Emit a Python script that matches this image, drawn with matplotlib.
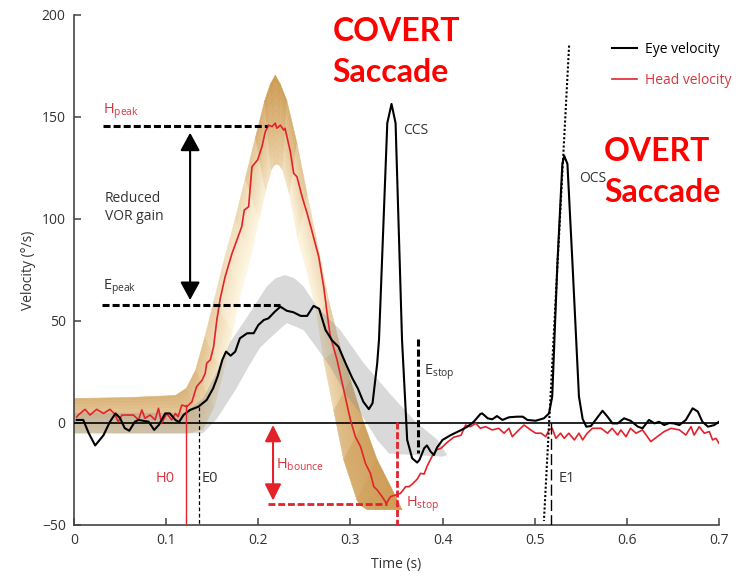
import numpy as np
import matplotlib.pyplot as plt
from matplotlib.collections import PolyCollection

plt.rcParams['font.family'] = ['Open Sans', 'DejaVu Sans']

# Eye velocity trace (time s, velocity deg/s)
eye_t = [0.003, 0.010, 0.016, 0.023, 0.032, 0.039, 0.045, 0.050, 0.055, 0.060,
         0.066, 0.070, 0.075, 0.081, 0.087, 0.092, 0.099, 0.104, 0.110, 0.114,
         0.119, 0.126, 0.135, 0.144, 0.151, 0.156, 0.161, 0.165, 0.170, 0.175,
         0.180, 0.188, 0.195, 0.200, 0.206, 0.211, 0.218, 0.224, 0.231, 0.238,
         0.246, 0.253, 0.260, 0.266, 0.273, 0.280, 0.287, 0.295, 0.302, 0.308,
         0.314, 0.320, 0.324, 0.329, 0.331, 0.340, 0.3446, 0.349, 0.356, 0.3616,
         0.367, 0.3725, 0.375, 0.380, 0.383, 0.387, 0.3906, 0.394, 0.400, 0.409,
         0.420, 0.427, 0.434, 0.441, 0.443, 0.449, 0.454, 0.459, 0.465, 0.472,
         0.481, 0.487, 0.492, 0.501, 0.510, 0.5155, 0.519, 0.5246, 0.530, 0.532,
         0.5355, 0.541, 0.548, 0.552, 0.556, 0.561, 0.566, 0.5736, 0.579, 0.5844,
         0.590, 0.597, 0.604, 0.612, 0.617, 0.624, 0.630, 0.635, 0.6405, 0.646,
         0.651, 0.657, 0.664, 0.6714, 0.677, 0.682, 0.688, 0.695, 0.700]
eye_v = [1.5, 1.5, -5, -11, -6, 0.6, 4.7, 2.4, -2.5, -3.8,
         0.6, 1.5, 1.1, 0.6, -3.4, -1, 4.7, 4.7, 1.5, 0.5,
         4, 6.4, 8, 11.3, 17, 23, 31, 35, 33, 35,
         41.5, 44, 44, 48, 50.5, 51.3, 54.6, 57, 55, 54.3,
         52.5, 52.5, 57.4, 56, 45.6, 40.5, 37.4, 29, 22, 17,
         10.4, 6.8, 9.7, 29, 40.7, 147, 156.4, 147, 40.7, -8.3,
         -17.3, -19.4, -18, -12.4, -11, -14, -15.7, -12, -8.3, -5.9,
         -3.5, -1.8, 0.7, 4.4, 4.7, 2.3, 1.8, 3.4, 1.5, 2.8,
         3.1, 3.1, 1.5, 1.1, 2.3, 4.7, 13, 78, 127, 131,
         127, 78, 13, 2, -1.8, -1.5, 1.5, 6, 3.1, -0.2,
         -0.2, 2.3, 1.1, -1.8, -2.6, 1.5, -0.2, 0.6, -1, 0,
         -0.2, -1, 1.5, 7.2, 5.6, 0.6, -1.8, -1, 0.6]

# Head velocity trace
head_t = [0.003, 0.0047, 0.012, 0.0174, 0.0246, 0.032, 0.039, 0.044, 0.048, 0.052,
          0.0645, 0.070, 0.0736, 0.077, 0.0826, 0.088, 0.0917, 0.095, 0.1007, 0.106,
          0.110, 0.113, 0.117, 0.1225, 0.128, 0.133, 0.139, 0.1424, 0.144, 0.148,
          0.1515, 0.155, 0.1587, 0.164, 0.1714, 0.1768, 0.182, 0.1848, 0.1895, 0.1913,
          0.1931, 0.1993, 0.204, 0.2076, 0.2112, 0.2149, 0.2185, 0.220, 0.224, 0.2275,
          0.229, 0.2348, 0.2384, 0.242, 0.2475, 0.253, 0.2584, 0.2656, 0.271, 0.2747,
          0.278, 0.2855, 0.2927, 0.300, 0.3054, 0.311, 0.3163, 0.3217, 0.3254, 0.329,
          0.3344, 0.339, 0.3435, 0.349, 0.3543, 0.360, 0.3634, 0.367, 0.3725, 0.376,
          0.380, 0.3834, 0.389, 0.394, 0.398, 0.405, 0.412, 0.420, 0.425, 0.430,
          0.436, 0.441, 0.4467, 0.454, 0.461, 0.4667, 0.472, 0.4757, 0.481, 0.4884,
          0.4957, 0.501, 0.507, 0.512, 0.5155, 0.519, 0.523, 0.528, 0.532, 0.537,
          0.543, 0.548, 0.552, 0.557, 0.5627, 0.572, 0.579, 0.584, 0.590, 0.5935,
          0.599, 0.604, 0.610, 0.617, 0.626, 0.633, 0.6405, 0.648, 0.657, 0.664,
          0.6696, 0.673, 0.6786, 0.684, 0.6895, 0.693, 0.6967, 0.700]
head_v = [3, 3.9, 6.7, 3.9, 6.7, 4.7, 6.7, 4.5, 0.6, 3.9,
          3.9, 1.5, 6.4, 2.3, 3.9, 1.5, 7.2, -0.2, 4.7, 1.5,
          4.7, 3.1, 8.8, 8, 10.4, 17.8, 21, 24.4, 29.3, 31,
          37.4, 50.5, 61, 71.7, 83, 89.7, 96.2, 104.4, 106, 115.8,
          125.6, 129, 135.5, 142.8, 146, 145.3, 147, 144.5, 146, 143.6,
          144.5, 133, 122.4, 120.7, 111, 102.8, 93.8, 81.5, 66.8, 53.8,
          43, 30.9, 16.2, 1.5, -6.7, -11.6, -19.8, -24.7, -31.2, -32.8,
          -36.1, -39.4, -36.1, -35.3, -34.5, -31.2, -31.2, -30, -27.5, -24.7,
          -25, -21, -16, -13, -12.5, -9.5, -7, -6, -1, -1.8,
          -0.2, -2.6, -1.8, -3.4, -2.6, -5, -2.6, -6.7, -4.2, -1,
          -3.4, -5, -5, -6.7, -3.4, -2.6, -7.5, -5, -7.5, -5,
          -8.3, -5, -8.3, -5, -2.6, -2.6, -5, -2.6, -5.9, -3.4,
          -6.7, -2.6, -5, -3.4, -9.1, -6.7, -4.2, -2.6, -3.4, -5.9,
          -1.8, -5.9, -1.8, -5, -4.2, -8.3, -7.5, -10]

# Normal head template band: outer and inner edge, paired along the band
gold_out_t = [0.0, 0.06, 0.11, 0.122, 0.132, 0.142, 0.152, 0.163, 0.175, 0.186,
              0.197, 0.207, 0.213, 0.2185, 0.224, 0.231, 0.242, 0.253, 0.264, 0.2764,
              0.289, 0.300, 0.3145, 0.329, 0.3435, 0.356]
gold_out_v = [12, 12.5, 13.5, 17, 26, 42, 60, 80, 100, 120,
              140, 158, 166, 170.5, 166, 158, 137, 112, 88, 60,
              37, 21, 0, -18, -31, -42.5]
gold_in_t = [0.0, 0.06, 0.125, 0.14, 0.152, 0.162, 0.172, 0.182, 0.192, 0.201,
             0.208, 0.214, 0.217, 0.220, 0.223, 0.2265, 0.234, 0.243, 0.253, 0.264,
             0.271, 0.282, 0.2927, 0.307, 0.310, 0.318]
gold_in_v = [-5, -5, -5, -3, 8, 25, 45, 65, 82, 100,
             114, 124, 126.2, 127, 126.2, 124, 112, 90, 74, 52,
             31, 6, -18, -37.7, -40, -42.5]
# shade of the band at each pair: 0 = full gold, 1 = pale cream
gold_out_l = [.3, .3, .3, .3, .4, .5, .65, .72, .72, .6,
              .38, .14, .08, .06, .08, .14, .35, .6, .7, .62,
              .45, .3, .15, .1, .08, .08]
gold_in_l = [.72, .72, .72, .72, .82, .9, .97, .99, .99, .97,
             .88, .68, .6, .6, .6, .68, .88, .97, .97, .92,
             .78, .52, .3, .2, .15, .15]

# Normal eye template band
grey_up_t = [0.0, 0.12, 0.14, 0.155, 0.17, 0.188, 0.2094, 0.219, 0.229, 0.239,
             0.249, 0.2638, 0.289, 0.3145, 0.3435, 0.372, 0.394, 0.405]
grey_up_v = [5, 5, 12, 25, 40, 52, 67, 71, 72.5, 71,
             67, 57, 45.6, 29.3, 14, 0, -8, -15.7]
grey_lo_t = [0.0, 0.14, 0.155, 0.175, 0.19, 0.202, 0.216, 0.231, 0.249, 0.26,
             0.278, 0.2964, 0.311, 0.329, 0.342, 0.40]
grey_lo_v = [-5, -5, 2, 16, 28, 37, 43, 49, 45.6, 39,
             27.6, 12.9, 4.7, -8.3, -15, -16.5]

red = '#e3232b'
lab_red = '#d9363e'
txt = '#333333'

fig = plt.figure(figsize=(7.47, 5.78), dpi=100)
ax = fig.add_axes([74 / 747, 53 / 578, 645 / 747, 510 / 578])

# gold band drawn as small quads so the shade can change across and along it
n_strip = 12
dark = np.array([0.79, 0.58, 0.28])
light = np.array([1.0, 0.975, 0.9])
go = np.column_stack([gold_out_t, gold_out_v])
gi = np.column_stack([gold_in_t, gold_in_v])
polys, cols = [], []
for j in range(len(go) - 1):
    lo = (gold_out_l[j] + gold_out_l[j + 1]) / 2
    li = (gold_in_l[j] + gold_in_l[j + 1]) / 2
    for k in range(n_strip):
        f0, f1 = k / n_strip, (k + 1) / n_strip
        p0 = go[j] + (gi[j] - go[j]) * f0
        p1 = go[j + 1] + (gi[j + 1] - go[j + 1]) * f0
        p2 = go[j + 1] + (gi[j + 1] - go[j + 1]) * f1
        p3 = go[j] + (gi[j] - go[j]) * f1
        polys.append([p0, p1, p2, p3])
        f = (k + 0.5) / n_strip
        cols.append(dark + (light - dark) * (lo + (li - lo) * f))
pc = PolyCollection(polys, facecolors=cols, edgecolors=cols, linewidths=0.4, zorder=1)
ax.add_collection(pc)

ax.fill(grey_up_t + grey_lo_t[::-1], grey_up_v + grey_lo_v[::-1],
        color='#8c8c8c', alpha=0.33, lw=0, zorder=2)

ax.axhline(0, color='black', lw=1.2, zorder=3)

ax.plot(head_t, head_v, color=red, lw=1.2, zorder=4, label='Head velocity')
ax.plot(eye_t, eye_v, color='black', lw=1.5, zorder=5, label='Eye velocity')

# markers of the measured events
ax.plot([0.1214, 0.1214], [9, -50], color=red, lw=1.0, zorder=6)
ax.plot([0.1355, 0.1355], [8, -50], color='black', lw=0.9, ls=(0, (3, 2)), zorder=6)
ax.plot([0.031, 0.2094], [145.7, 145.7], color='black', lw=2.2, ls=(0, (2.3, 1)), zorder=6)
ax.plot([0.030, 0.224], [57.8, 57.8], color='black', lw=2.2, ls=(0, (2.3, 1)), zorder=6)
ax.plot([0.373, 0.373], [41, -14.9], color='black', lw=2.2, ls=(0, (2.3, 1)), zorder=6)
ax.plot([0.211, 0.34], [-39.7, -39.7], color=red, lw=2.0, ls=(0, (2.5, 1)), zorder=6)
ax.plot([0.3507, 0.3507], [0.5, -50], color=red, lw=2.0, ls=(0, (2.5, 1)), zorder=6)
ax.plot([0.5174, 0.5174], [0, -50], color='black', lw=1.0, ls=(0, (8, 3)), zorder=6)
ax.plot([0.5373, 0.510], [185, -48], color='black', lw=1.5, ls=(0, (1, 1)), zorder=6)

ax.annotate('', xy=(0.126, 142.3), xytext=(0.126, 60.3),
            arrowprops=dict(arrowstyle='<|-|>,head_length=0.55,head_width=0.3',
                            color='black', lw=1.5, shrinkA=0, shrinkB=0,
                            mutation_scale=20), zorder=7)
ax.annotate('', xy=(0.216, -1), xytext=(0.216, -38),
            arrowprops=dict(arrowstyle='<|-|>,head_length=0.5,head_width=0.25',
                            color=red, lw=1.5, shrinkA=0, shrinkB=0,
                            mutation_scale=20), zorder=7)

fs = 10.5
ax.text(0.0315, 153, r'$\mathregular{H_{peak}}$', color=lab_red, fontsize=fs, va='center')
ax.text(0.032, 66.5, r'$\mathregular{E_{peak}}$', color=txt, fontsize=fs, va='center')
ax.text(0.0334, 105.5, 'Reduced\nVOR gain', color=txt, fontsize=10, va='center',
        linespacing=1.25)
ax.text(0.0995, -27, 'H0', color=lab_red, fontsize=fs, ha='center', va='center')
ax.text(0.148, -27, 'E0', color=txt, fontsize=fs, ha='center', va='center')
ax.text(0.2196, -20.5, r'$\mathregular{H_{bounce}}$', color=lab_red, fontsize=fs, va='center')
ax.text(0.3598, -40, r'$\mathregular{H_{stop}}$', color=lab_red, fontsize=fs, va='center')
ax.text(0.380, 25, r'$\mathregular{E_{stop}}$', color=txt, fontsize=fs, va='center')
ax.text(0.526, -27, 'E1', color=txt, fontsize=fs, va='center')
ax.text(0.3576, 143.6, 'CCS', color=txt, fontsize=10, va='center')
ax.text(0.548, 120, 'OCS', color=txt, fontsize=10, va='center')

ax.text(0.2804, 182, 'COVERT\nSaccade', color='#ff0000', fontsize=23, fontweight='bold',
        family='Lato', va='center', ha='left', linespacing=1.5)
ax.text(0.575, 122.8, 'OVERT\nSaccade', color='#ff0000', fontsize=23, fontweight='bold',
        family='Lato', va='center', ha='left', linespacing=1.5)

handles, labels = ax.get_legend_handles_labels()
leg = ax.legend(handles[::-1], labels[::-1], loc='upper left', bbox_to_anchor=(0.834, 0.948),
                frameon=False, fontsize=10, handlelength=1.8, handletextpad=0.55,
                labelspacing=1.2, borderpad=0, borderaxespad=0)
leg.get_texts()[0].set_color('black')
leg.get_texts()[1].set_color(lab_red)

ax.set_xlim(0, 0.7)
ax.set_ylim(-50, 200)
ax.set_xticks([0, 0.1, 0.2, 0.3, 0.4, 0.5, 0.6, 0.7])
ax.set_xticklabels(['0', '0.1', '0.2', '0.3', '0.4', '0.5', '0.6', '0.7'])
ax.set_yticks([-50, 0, 50, 100, 150, 200])
ax.tick_params(direction='in', length=5, width=1.1, colors='#444444', labelsize=10,
               labelcolor=txt, pad=6)
for s in ['top', 'right']:
    ax.spines[s].set_visible(False)
for s in ['left', 'bottom']:
    ax.spines[s].set_color('#444444')
    ax.spines[s].set_linewidth(1.2)
ax.set_xlabel('Time (s)', fontsize=10, color=txt, labelpad=6)
ax.set_ylabel('Velocity (°/s)', fontsize=10, color=txt, labelpad=4)

fig.savefig('out.png', dpi=100)
